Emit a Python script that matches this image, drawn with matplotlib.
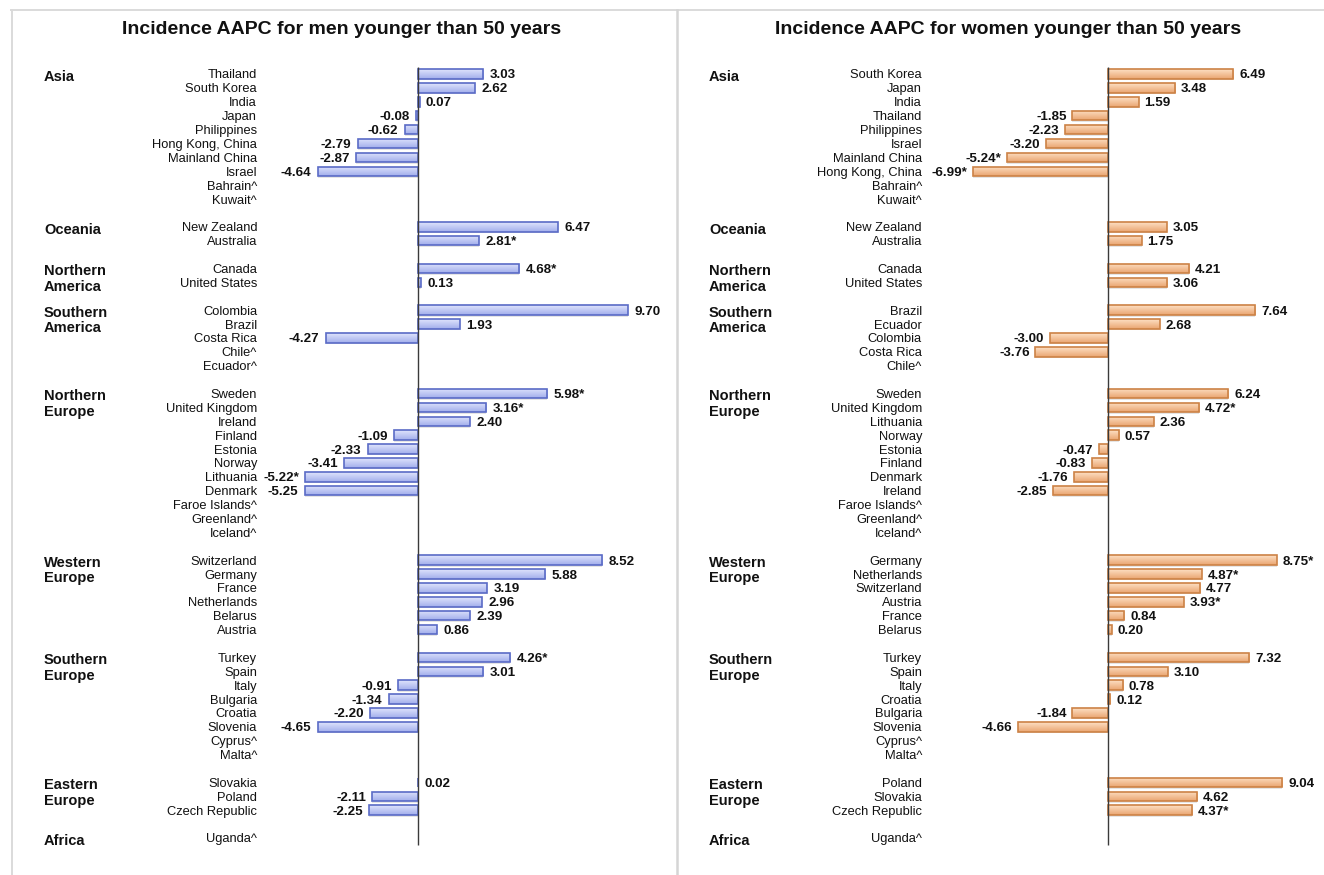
import numpy as np
import matplotlib
matplotlib.use("Agg")
import matplotlib.pyplot as plt
from matplotlib.colors import LinearSegmentedColormap
from matplotlib.lines import Line2D

# ---------------- data ----------------
regions = ["Asia", "Oceania", "Northern\nAmerica", "Southern\nAmerica",
           "Northern\nEurope", "Western\nEurope", "Southern\nEurope",
           "Eastern\nEurope", "Africa"]
region_sizes = [10, 2, 2, 5, 11, 6, 8, 3, 1]

men_countries = [
    "Thailand", "South Korea", "India", "Japan", "Philippines",
    "Hong Kong, China", "Mainland China", "Israel", "Bahrain^", "Kuwait^",
    "New Zealand", "Australia",
    "Canada", "United States",
    "Colombia", "Brazil", "Costa Rica", "Chile^", "Ecuador^",
    "Sweden", "United Kingdom", "Ireland", "Finland", "Estonia", "Norway",
    "Lithuania", "Denmark", "Faroe Islands^", "Greenland^", "Iceland^",
    "Switzerland", "Germany", "France", "Netherlands", "Belarus", "Austria",
    "Turkey", "Spain", "Italy", "Bulgaria", "Croatia", "Slovenia",
    "Cyprus^", "Malta^",
    "Slovakia", "Poland", "Czech Republic",
    "Uganda^",
]
men_aapc = [
    3.03, 2.62, 0.07, -0.08, -0.62, -2.79, -2.87, -4.64, None, None,
    6.47, 2.81,
    4.68, 0.13,
    9.70, 1.93, -4.27, None, None,
    5.98, 3.16, 2.40, -1.09, -2.33, -3.41, -5.22, -5.25, None, None, None,
    8.52, 5.88, 3.19, 2.96, 2.39, 0.86,
    4.26, 3.01, -0.91, -1.34, -2.20, -4.65, None, None,
    0.02, -2.11, -2.25,
    None,
]
men_significant = ["Australia", "Canada", "Sweden", "United Kingdom",
                   "Lithuania", "Turkey"]

women_countries = [
    "South Korea", "Japan", "India", "Thailand", "Philippines", "Israel",
    "Mainland China", "Hong Kong, China", "Bahrain^", "Kuwait^",
    "New Zealand", "Australia",
    "Canada", "United States",
    "Brazil", "Ecuador", "Colombia", "Costa Rica", "Chile^",
    "Sweden", "United Kingdom", "Lithuania", "Norway", "Estonia", "Finland",
    "Denmark", "Ireland", "Faroe Islands^", "Greenland^", "Iceland^",
    "Germany", "Netherlands", "Switzerland", "Austria", "France", "Belarus",
    "Turkey", "Spain", "Italy", "Croatia", "Bulgaria", "Slovenia",
    "Cyprus^", "Malta^",
    "Poland", "Slovakia", "Czech Republic",
    "Uganda^",
]
women_aapc = [
    6.49, 3.48, 1.59, -1.85, -2.23, -3.20, -5.24, -6.99, None, None,
    3.05, 1.75,
    4.21, 3.06,
    7.64, 2.68, -3.00, -3.76, None,
    6.24, 4.72, 2.36, 0.57, -0.47, -0.83, -1.76, -2.85, None, None, None,
    8.75, 4.87, 4.77, 3.93, 0.84, 0.20,
    7.32, 3.10, 0.78, 0.12, -1.84, -4.66, None, None,
    9.04, 4.62, 4.37,
    None,
]
women_significant = ["Mainland China", "Hong Kong, China", "United Kingdom",
                     "Germany", "Netherlands", "Austria", "Czech Republic"]

titles = ["Incidence AAPC for men younger than 50 years",
          "Incidence AAPC for women younger than 50 years"]

# ---------------- style ----------------
W, H, DPI = 1324, 875, 100
NARROW = ["Liberation Sans Narrow", "Liberation Sans", "DejaVu Sans"]
WIDE = ["Liberation Sans", "DejaVu Sans"]

men_style = dict(top="#dfe4fc", bottom="#a2aeec", edge="#5a6bc6")
women_style = dict(top="#fde0c4", bottom="#eaa571", edge="#cc8246")

# row layout: one blank row between regions
row_pos = []
region_first_row = []
r = 0
for n in region_sizes:
    region_first_row.append(r)
    row_pos.extend(range(r, r + n))
    r += n + 1
row_pos = np.array(row_pos, dtype=float)

ROW_PX = 13.89
FIRST_ROW_PX = 74.0


def px_to_row(py):
    return (py - FIRST_ROW_PX) / ROW_PX


fig = plt.figure(figsize=(W / DPI, H / DPI), dpi=DPI)
fig.patch.set_facecolor("white")

# panel geometry in pixels
panels = [
    dict(left=12, right=676, zero=418, scale=21.6, label_x=257, region_x=44,
         title_x=342, countries=men_countries, values=men_aapc,
         sig=men_significant, style=men_style, title=titles[0]),
    dict(left=677, right=1324, zero=1108, scale=19.3, label_x=922,
         region_x=709, title_x=1008, countries=women_countries,
         values=women_aapc, sig=women_significant, style=women_style,
         title=titles[1]),
]

bar_h = 0.68
grad = np.linspace(0, 1, 64).reshape(-1, 1)

for p in panels:
    wpx = p["right"] - p["left"]
    ax = fig.add_axes([p["left"] / W, 0, wpx / W, 1])
    ax.set_axis_off()
    x0 = (p["left"] - p["zero"]) / p["scale"]
    x1 = (p["right"] - p["zero"]) / p["scale"]
    y_top = px_to_row(0)
    y_bot = px_to_row(H)

    cmap = LinearSegmentedColormap.from_list(
        "g", [p["style"]["top"], p["style"]["bottom"]])

    def to_frac(px, p=p, wpx=wpx):
        return (px - p["left"]) / wpx

    tr = ax.get_yaxis_transform()  # x in axes fraction, y in data

    for name, val, y in zip(p["countries"], p["values"], row_pos):
        ax.text(to_frac(p["label_x"]), y, name, transform=tr, ha="right",
                va="center_baseline", fontsize=9.3, family=NARROW,
                color="#111111")
        if val is None:
            continue
        # soft shadow under the bar
        ax.barh(y + 0.12, val, height=bar_h, left=0,
                color="#000000", alpha=0.10, linewidth=0, zorder=1)
        bars = ax.barh(y, val, height=bar_h, left=0, color="none",
                       edgecolor=p["style"]["edge"], linewidth=1.2, zorder=3)
        rect = bars.patches[0]
        img = ax.imshow(grad, cmap=cmap, aspect="auto",
                        extent=(min(0, val), max(0, val),
                                y + bar_h / 2, y - bar_h / 2),
                        zorder=2, interpolation="bilinear")
        img.set_clip_path(rect)
        label = f"{val:.2f}" + ("*" if name in p["sig"] else "")
        off = 0.3
        ax.text(val + off if val >= 0 else val - off, y, label,
                ha="left" if val >= 0 else "right", va="center_baseline",
                fontsize=9.6, fontweight="bold", family=NARROW,
                color="#111111", zorder=4)

    for reg, first in zip(regions, region_first_row):
        ax.text(to_frac(p["region_x"]), first - 0.3, reg, transform=tr,
                ha="left", va="top", fontsize=10.5, fontweight="bold",
                family=WIDE, linespacing=1.12, color="#111111")

    # zero line
    ax.plot([0, 0], [-0.5, row_pos[-1] + 0.5], color="#3a3a3a", lw=1.0,
            zorder=5, solid_capstyle="butt")

    ax.text(to_frac(p["title_x"]), px_to_row(28), p["title"], transform=tr,
            ha="center", va="center_baseline", fontsize=14, fontweight="bold",
            family=WIDE, color="#111111")

    ax.set_xlim(x0, x1)
    ax.set_ylim(y_bot, y_top)

# panel frame lines
frame_kw = dict(color="#dadada", lw=1.4, transform=fig.transFigure)
fig.add_artist(Line2D([11 / W, 1], [1 - 10 / H, 1 - 10 / H], **frame_kw))
fig.add_artist(Line2D([11.5 / W, 11.5 / W], [0, 1 - 10 / H], **frame_kw))
fig.add_artist(Line2D([676.5 / W, 676.5 / W], [0, 1 - 10 / H],
                      color="#d5d5d5", lw=1.8, transform=fig.transFigure))

fig.savefig("out.png", dpi=DPI, facecolor="white")
